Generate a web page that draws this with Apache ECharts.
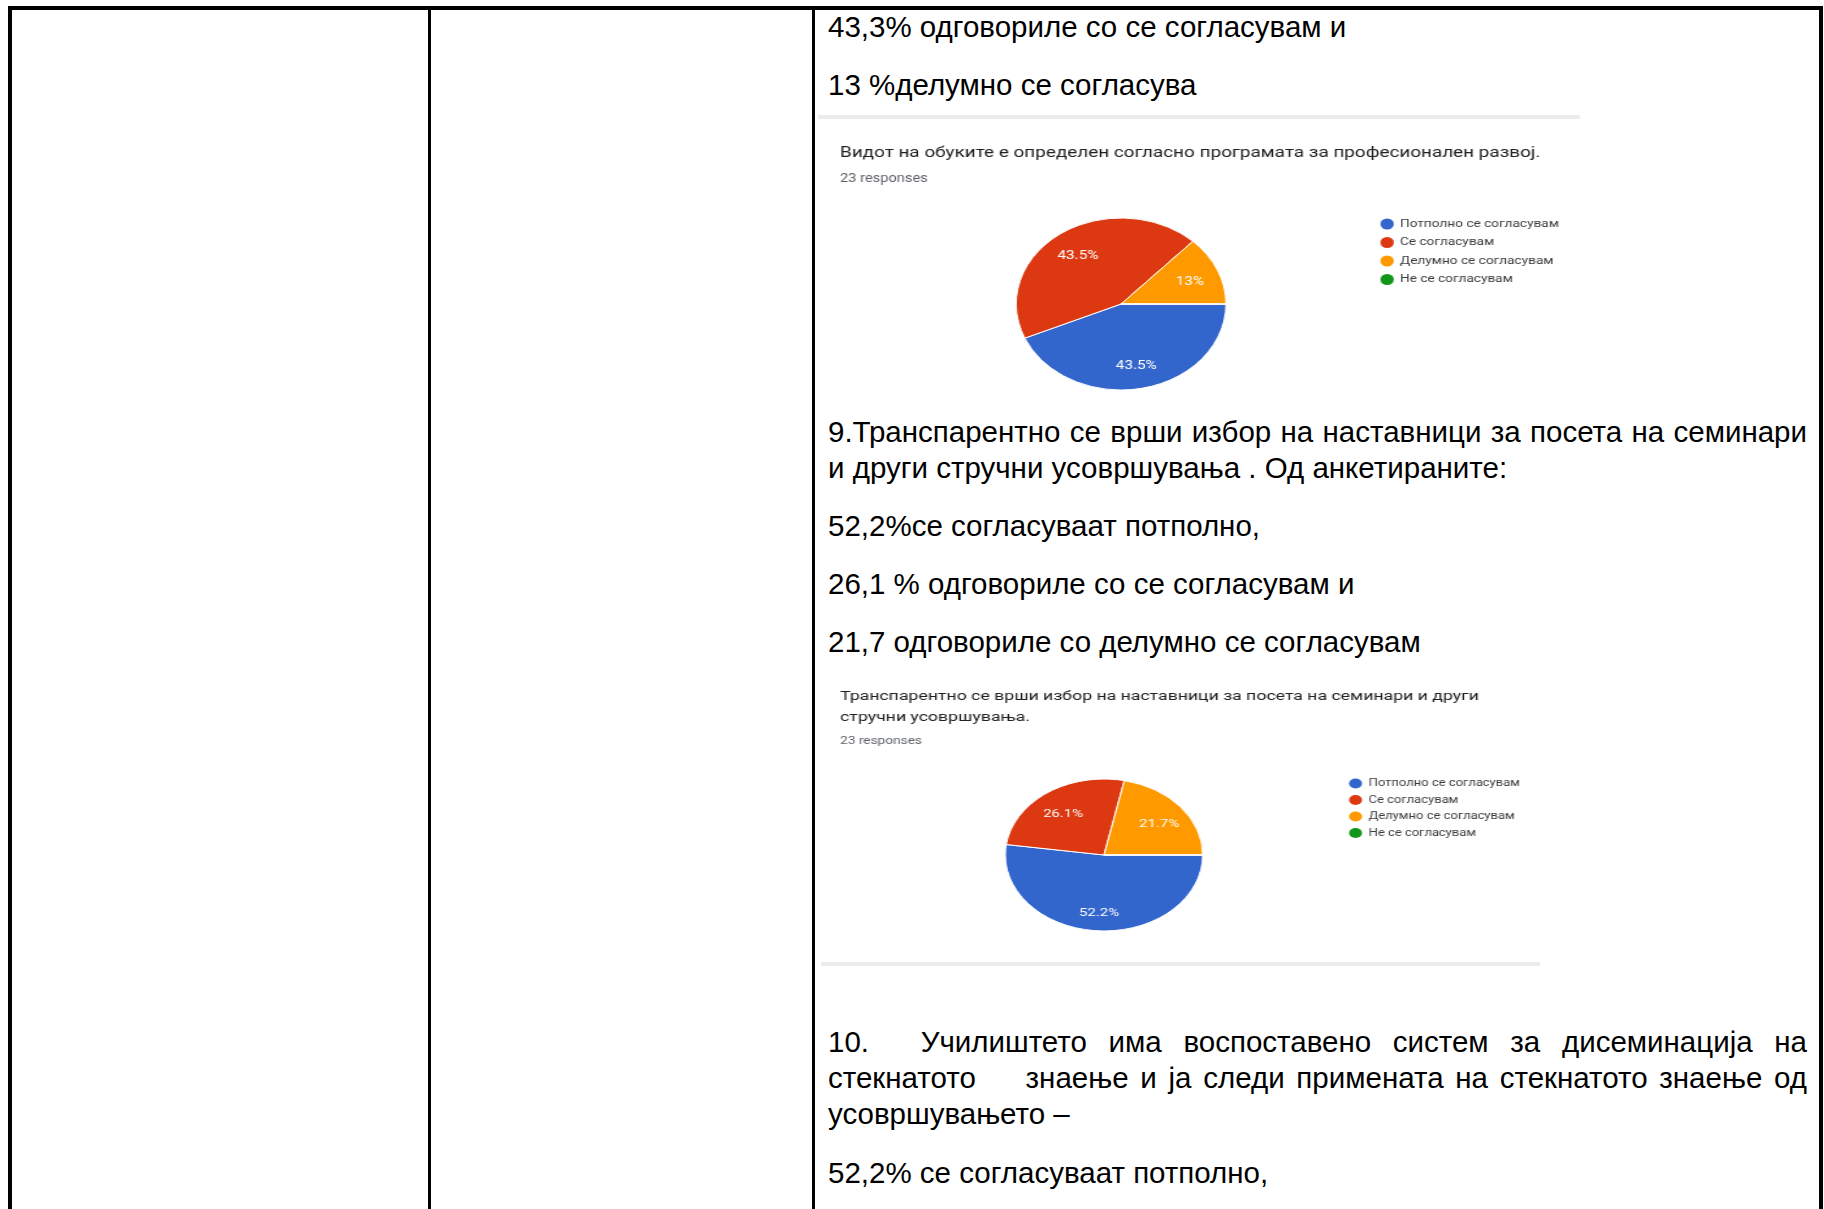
<!DOCTYPE html>
<html><head><meta charset="utf-8">
<script src="https://cdn.jsdelivr.net/npm/echarts@6/dist/echarts.min.js"></script>
<style>
html,body{margin:0;padding:0;background:#fff;}
body{width:1824px;height:1209px;overflow:hidden;position:relative;}
.b{position:absolute;background:#000;}
.g{position:absolute;background:#ececec;}
.t{position:absolute;font-family:"Liberation Sans",Arial,sans-serif;font-size:29.5px;line-height:36px;color:#000;white-space:pre;}
.j{text-align:justify;text-align-last:justify;white-space:normal;}
.sp{display:inline-block;}
.card{position:absolute;transform-origin:0 0;}
</style></head><body>
<div class="b" style="left:8px;top:6px;width:1815px;height:4px"></div>
<div class="b" style="left:8px;top:6px;width:4px;height:1203px"></div>
<div class="b" style="left:1819px;top:6px;width:4px;height:1203px"></div>
<div class="b" style="left:428px;top:6px;width:3px;height:1203px"></div>
<div class="b" style="left:812px;top:6px;width:3px;height:1203px"></div>

<div class="t" style="left:828px;top:9px">43,3% одговориле со се согласувам и</div>
<div class="t" style="left:828px;top:67px">13 %делумно се согласува</div>
<div class="g" style="left:818px;top:115px;width:762px;height:4px"></div>

<div id="c1" class="card" style="left:818px;top:120px;width:641px;height:290px;transform:scaleX(1.22)"></div>

<div class="t j" style="left:828px;top:414px;width:979px">9.Транспарентно се врши избор на наставници за посета на семинари</div>
<div class="t" style="left:828px;top:450px">и други стручни усовршувања . Од анкетираните:</div>
<div class="t" style="left:828px;top:508px">52,2%се согласуваат потполно,</div>
<div class="t" style="left:828px;top:566px">26,1 % одговориле со се согласувам и</div>
<div class="t" style="left:828px;top:624px">21,7 одговориле со делумно се согласувам</div>

<div id="c2" class="card" style="left:818px;top:670px;width:601px;height:290px;transform:scaleX(1.3)"></div>
<div class="g" style="left:821px;top:962px;width:719px;height:4px"></div>

<div class="t j" style="left:828px;top:1024px;width:979px">10.<span class="sp" style="width:30px"></span> Училиштето има воспоставено систем за дисеминација на</div>
<div class="t j" style="left:828px;top:1060px;width:979px">стекнатото<span class="sp" style="width:38px"></span> знаење и ја следи примената на стекнатото знаење од</div>
<div class="t" style="left:828px;top:1096px">усовршувањето –</div>
<div class="t" style="left:828px;top:1155px">52,2% се согласуваат потполно,</div>

<script>
const answerNames = ['Потполно се согласувам', 'Се согласувам', 'Делумно се согласувам', 'Не се согласувам'];
const chart1Title = 'Видот на обуките е определен согласно програмата за професионален развој.';
const chart1Responses = '23 responses';
const chart1Percent = [43.5, 43.5, 13, 0];
const chart2Title = 'Транспарентно се врши избор на наставници за посета на семинари и други\nстручни усовршувања.';
const chart2Responses = '23 responses';
const chart2Percent = [52.2, 26.1, 21.7, 0];

const palette = ['#3366cc', '#dc3912', '#ff9900', '#109618'];

function buildOption(title, sub, values, L) {
  const data = answerNames.map((n, i) => ({ name: n, value: values[i] }));
  return {
    animation: false,
    color: palette,
    title: {
      text: title, subtext: sub, left: L.titleX, top: L.titleTop, padding: 0, itemGap: L.titleGap,
      textStyle: { fontFamily: 'Roboto', fontSize: L.titleSize, fontWeight: 'normal', color: '#202124', lineHeight: L.titleLH },
      subtextStyle: { fontFamily: 'Roboto', fontSize: L.subSize, color: '#5f6368', lineHeight: L.subLH }
    },
    legend: {
      orient: 'vertical', left: L.legX, top: L.legTop, padding: 0, icon: 'circle',
      itemWidth: L.legIcon, itemHeight: L.legIcon, itemGap: L.legGap,
      itemStyle: { borderWidth: 0 },
      textStyle: { fontFamily: 'Roboto', fontSize: L.legSize, color: '#3c3c3c', lineHeight: L.legIcon },
      data: answerNames
    },
    series: [
      {
        type: 'pie', center: L.center, radius: [0, L.r], startAngle: 0, clockwise: true,
        data: data, silent: true, emphasis: { disabled: true },
        label: { show: false }, labelLine: { show: false },
        itemStyle: { borderColor: '#ffffff', borderWidth: 1 }
      },
      {
        type: 'pie', center: L.center, radius: [L.r * 0.36, L.r], startAngle: 0, clockwise: true,
        data: data, silent: true, emphasis: { disabled: true },
        itemStyle: { color: 'rgba(0,0,0,0)', borderWidth: 0 },
        labelLine: { show: false },
        label: {
          show: true, position: 'inside', color: '#ffffff', fontFamily: 'Roboto', fontSize: L.labSize,
          offset: L.labOffset,
          formatter: p => (p.value > 0 ? p.value + '%' : '')
        }
      }
    ]
  };
}

const c1 = echarts.init(document.getElementById('c1'));
c1.setOption(buildOption(chart1Title, chart1Responses, chart1Percent, {
  titleX: 18, titleTop: 23, titleGap: 9, titleSize: 15.5, titleLH: 20, subSize: 12, subLH: 14,
  legX: 461, legTop: 98.5, legIcon: 11, legGap: 7.5, legSize: 11.2,
  center: [248.4, 184], r: 86, labSize: 12.5, labOffset: [0, 2]
}));
const c2 = echarts.init(document.getElementById('c2'));
c2.setOption(buildOption(chart2Title, chart2Responses, chart2Percent, {
  titleX: 17, titleTop: 16.5, titleGap: 6.5, titleSize: 13.6, titleLH: 21, subSize: 10.5, subLH: 12,
  legX: 408.5, legTop: 108.5, legIcon: 10, legGap: 6.5, legSize: 10,
  center: [220, 185], r: 76, labSize: 11.5, labOffset: [0, 3.5]
}));
</script>
</body></html>
